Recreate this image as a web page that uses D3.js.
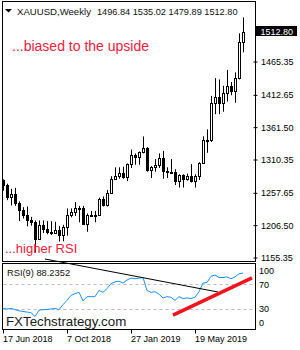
<!DOCTYPE html>
<html>
<head>
<meta charset="utf-8">
<script src="https://cdn.jsdelivr.net/npm/d3@7"></script>
<style>
	body { margin: 0; background: #fff; }
	svg { display: block; }
	text { font-family: "Liberation Sans", Arial, sans-serif; }
</style>
</head>
<body>
<div class="chart"></div>
<script>
// weekly XAUUSD bars, week start dates
const weeks = ["2018-06-17", "2018-06-24", "2018-07-01", "2018-07-08", "2018-07-15", "2018-07-22", "2018-07-29",
	"2018-08-05", "2018-08-12", "2018-08-19", "2018-08-26", "2018-09-02", "2018-09-09", "2018-09-16", "2018-09-23",
	"2018-09-30", "2018-10-07", "2018-10-14", "2018-10-21", "2018-10-28", "2018-11-04", "2018-11-11", "2018-11-18",
	"2018-11-25", "2018-12-02", "2018-12-09", "2018-12-16", "2018-12-23", "2018-12-30", "2019-01-06", "2019-01-13",
	"2019-01-20", "2019-01-27", "2019-02-03", "2019-02-10", "2019-02-17", "2019-02-24", "2019-03-03", "2019-03-10",
	"2019-03-17", "2019-03-24", "2019-03-31", "2019-04-07", "2019-04-14", "2019-04-21", "2019-04-28", "2019-05-05",
	"2019-05-12", "2019-05-19", "2019-05-26", "2019-06-02", "2019-06-09", "2019-06-16", "2019-06-23", "2019-06-30",
	"2019-07-07", "2019-07-14", "2019-07-21", "2019-07-28", "2019-08-04", "2019-08-11"]

const open = [1278.6, 1269.7, 1251.0, 1255.6, 1241.3, 1231.0, 1223.0, 1214.0, 1212.0, 1184.0, 1206.0, 1201.0, 1196.0,
	1194.0, 1199.0, 1191.0, 1203.0, 1222.0, 1227.0, 1234.0, 1233.0, 1209.0, 1222.0, 1222.0, 1222.0, 1248.0, 1238.0,
	1257.0, 1280.0, 1285.0, 1289.0, 1282.0, 1303.0, 1317.0, 1314.0, 1322.0, 1328.0, 1294.0, 1298.0, 1302.0, 1313.0,
	1292.0, 1291.0, 1290.0, 1276.0, 1286.0, 1280.0, 1285.0, 1277.0, 1284.0, 1305.0, 1341.0, 1341.0, 1399.0, 1409.0,
	1400.0, 1415.0, 1426.0, 1419.0, 1440.0, 1496.84]
const high = [1279, 1272, 1264, 1265.6, 1244, 1235, 1236, 1219.6, 1214, 1214, 1214, 1212.9, 1212.7, 1211.8, 1205,
	1207, 1233, 1233, 1243, 1237, 1237, 1225, 1229, 1229, 1250, 1252, 1262, 1284, 1298, 1298, 1299, 1304, 1326, 1320,
	1323, 1346.8, 1330, 1300, 1311, 1320, 1324, 1298, 1311, 1295, 1287, 1287, 1288, 1303, 1287, 1306, 1347, 1358, 1411,
	1439, 1437, 1427, 1452, 1433, 1448, 1510, 1535.02]
const low = [1261, 1246, 1237.6, 1237, 1213, 1217, 1204.6, 1205.7, 1163, 1183, 1194, 1192, 1191, 1193, 1180.6, 1181,
	1190, 1219, 1221, 1211, 1207, 1196, 1220, 1211, 1221, 1236, 1236, 1256, 1278, 1280, 1280, 1276, 1297, 1302, 1302,
	1320, 1291, 1281, 1291, 1297, 1280, 1281, 1288, 1270, 1266, 1266, 1277, 1274, 1266, 1278, 1304, 1321, 1338, 1382,
	1382, 1386, 1402, 1412, 1400, 1437, 1479.89]
const close = [1269.7, 1250.5, 1255.6, 1241.3, 1231.1, 1223, 1214, 1211.8, 1184, 1206.3, 1201, 1196, 1194, 1199,
	1191.6, 1203, 1222, 1227, 1234, 1233, 1209, 1222, 1222.5, 1222, 1248, 1238, 1257, 1280, 1285, 1289, 1282, 1303,
	1317, 1314, 1322, 1328, 1294, 1298, 1302, 1313, 1292, 1291, 1290, 1276, 1286, 1280, 1285, 1277, 1284, 1305, 1341,
	1341, 1399, 1409, 1400, 1415, 1426, 1419, 1440, 1496.8, 1512.80]

// RSI(9) per bar
const rsi = [31, 30, 31, 29, 27, 26, 25, 24, 18, 28, 29, 29, 30, 31, 29, 37, 44, 52, 55, 57, 43, 50, 50, 50, 60, 57,
	63, 71, 74, 75, 72, 77, 80, 79, 80, 81, 60, 57, 58, 54, 48, 50, 49, 44, 50, 47, 48, 47, 49, 58, 72, 73, 83, 85, 81,
	81, 82, 79, 82, 87, 88.2352]

const priceTicks = [1155.35, 1206.50, 1257.65, 1310.35, 1361.50, 1412.65, 1465.35]
const rsiTicks = [0, 30, 70, 100]
const rsiLevels = [30, 70]
const dateTicks = ["2018-06-17", "2018-10-07", "2019-01-27", "2019-05-19"]
const dateLabels = ["17 Jun 2018", "7 Oct 2018", "27 Jan 2019", "19 May 2019"]

// trendlines on the RSI window: [bar index, rsi value]
const rsiResistance = [[10.5, 111], [53.75, 57.5]]
const rsiSupport = [[42.5, 20], [62.25, 80.5]]

let width = 300
let height = 350
let main = { left: 2.5, right: 255.5, top: 1.5, bottom: 261.5 }
let sub = { top: 263.5, bottom: 329.5 }

var svg = d3.select(".chart")
	.append("svg")
	.attr("width", width)
	.attr("height", height)

let x = d3.scaleLinear().domain([0, weeks.length - 1]).range([3, 243])
let y = d3.scaleLinear().domain([1155.35, 1512.80]).range([257.5, 31.5])
let yr = d3.scaleLinear().domain([0, 100]).range([327.5, 265.8])

//frames
svg.append("rect")
	.attr("x", main.left).attr("y", main.top)
	.attr("width", main.right - main.left).attr("height", main.bottom - main.top)
	.attr("fill", "none").attr("stroke", "#000")
svg.append("rect")
	.attr("x", main.left).attr("y", sub.top)
	.attr("width", main.right - main.left).attr("height", sub.bottom - sub.top)
	.attr("fill", "none").attr("stroke", "#000")

//candles
let bars = d3.range(weeks.length)
let px = i => Math.round(x(i))

svg.append("g")
	.selectAll("line")
	.data(bars)
	.join("line")
	.attr("x1", i => px(i) + 0.5)
	.attr("x2", i => px(i) + 0.5)
	.attr("y1", i => y(high[i]))
	.attr("y2", i => y(low[i]))
	.attr("stroke", "#000")

svg.append("g")
	.selectAll("rect")
	.data(bars)
	.join("rect")
	.attr("x", i => px(i) - 0.5)
	.attr("width", 2)
	.attr("y", i => Math.round(y(Math.max(open[i], close[i]))) + 0.5)
	.attr("height", i => Math.max(1, Math.round(y(Math.min(open[i], close[i]))) - Math.round(y(Math.max(open[i], close[i])))))
	.attr("fill", i => close[i] >= open[i] ? "#fff" : "#000")
	.attr("stroke", "#000")

//price axis
let priceAxis = svg.append("g")
	.attr("transform", "translate(253.5,0)")
	.call(d3.axisRight(y).tickValues(priceTicks).tickSize(4).tickPadding(3.5).tickFormat(d3.format(".2f")))
priceAxis.select(".domain").remove()
priceAxis.selectAll("text")
	.style("font-family", "Liberation Sans, Arial, sans-serif")
	.style("font-size", "9px")
	.attr("fill", "#000")

svg.append("rect")
	.attr("x", 256).attr("y", y(close[close.length - 1]) - 5.5)
	.attr("width", 41).attr("height", 10)
	.attr("fill", "#000")
svg.append("text")
	.attr("x", 260.5).attr("y", y(close[close.length - 1]) + 3)
	.attr("fill", "#fff")
	.style("font-size", "9px")
	.text(d3.format(".2f")(close[close.length - 1]))

//RSI window
svg.selectAll("line.level")
	.data(rsiLevels)
	.join("line")
	.attr("class", "level")
	.attr("x1", main.left + 1).attr("x2", main.right - 1)
	.attr("y1", d => Math.round(yr(d)) + 0.5)
	.attr("y2", d => Math.round(yr(d)) + 0.5)
	.attr("stroke", "#bdbdbd")
	.attr("stroke-dasharray", "3,3")

svg.append("path")
	.datum(rsi)
	.attr("d", d3.line().x((d, i) => x(i)).y(d => yr(d)))
	.attr("fill", "none")
	.attr("stroke", "#1e90ff")
	.attr("stroke-width", 1)

svg.append("line")
	.attr("x1", x(rsiResistance[0][0])).attr("y1", yr(rsiResistance[0][1]))
	.attr("x2", x(rsiResistance[1][0])).attr("y2", yr(rsiResistance[1][1]))
	.attr("stroke", "#000")
	.attr("stroke-width", 1)

svg.append("line")
	.attr("x1", x(rsiSupport[0][0])).attr("y1", yr(rsiSupport[0][1]))
	.attr("x2", x(rsiSupport[1][0])).attr("y2", yr(rsiSupport[1][1]))
	.attr("stroke", "#f0141e")
	.attr("stroke-width", 3.5)

svg.selectAll("text.rsitick")
	.data(rsiTicks)
	.join("text")
	.attr("class", "rsitick")
	.attr("x", 259)
	.attr("y", d => Math.min(322.5, Math.max(270.5, yr(d))) + 3.2)
	.style("font-size", "9px")
	.attr("fill", "#000")
	.text(d => d)

//time axis
svg.selectAll("line.dtick")
	.data(dateTicks)
	.join("line")
	.attr("class", "dtick")
	.attr("x1", d => px(weeks.indexOf(d)) + 0.5)
	.attr("x2", d => px(weeks.indexOf(d)) + 0.5)
	.attr("y1", sub.bottom).attr("y2", sub.bottom + 4)
	.attr("stroke", "#000")

svg.selectAll("text.dlabel")
	.data(dateTicks)
	.join("text")
	.attr("class", "dlabel")
	.attr("x", d => px(weeks.indexOf(d)))
	.attr("y", 342)
	.style("font-size", "9px")
	.attr("fill", "#000")
	.text((d, i) => dateLabels[i])

//labels
svg.append("path")
	.attr("d", "M5,9L12,9L8.5,12.5Z")
	.attr("fill", "#000")
svg.append("text")
	.attr("x", 17).attr("y", 15)
	.style("font-size", "9.6px")
	.attr("fill", "#111")
	.text("XAUUSD,Weekly")
svg.append("text")
	.attr("x", 97).attr("y", 15)
	.style("font-size", "9.2px")
	.attr("fill", "#111")
	.text([open, high, low, close].map(a => a[a.length - 1].toFixed(2)).join(" "))

svg.append("text")
	.attr("x", 12).attr("y", 51)
	.style("font-size", "14px")
	.attr("fill", "#f0203c")
	.text("...biased to the upside")

svg.append("text")
	.attr("x", 5).attr("y", 253)
	.style("font-size", "13px")
	.attr("fill", "#f0203c")
	.text("...higher RSI")

svg.append("text")
	.attr("x", 7).attr("y", 276)
	.style("font-size", "9.3px")
	.attr("fill", "#111")
	.text("RSI(9) " + rsi[rsi.length - 1].toFixed(4))

svg.append("text")
	.attr("x", 6).attr("y", 326)
	.style("font-size", "13.3px")
	.attr("fill", "#1a1a1a")
	.text("FXTechstrategy.com")
</script>
</body>
</html>
